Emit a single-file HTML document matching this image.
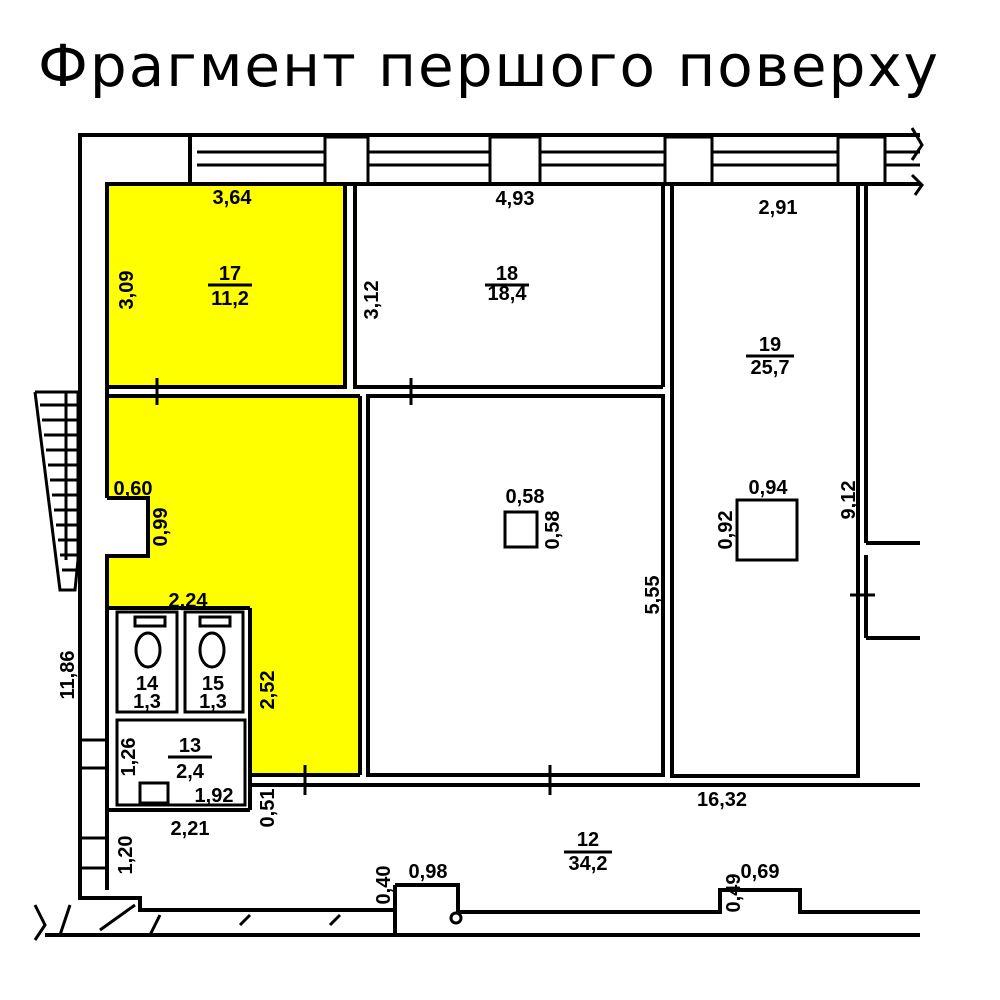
<!DOCTYPE html>
<html><head><meta charset="utf-8"><style>
html,body{margin:0;padding:0;background:#fff;width:1000px;height:1000px;overflow:hidden}
svg{display:block}
.t{font-family:"Liberation Sans",sans-serif;font-weight:bold;font-size:20px;fill:#000}
</style></head><body>
<svg width="1000" height="1000" viewBox="0 0 1000 1000" xmlns="http://www.w3.org/2000/svg">
<text x="38" y="86" textLength="900" lengthAdjust="spacing" font-family="'DejaVu Sans','Liberation Sans',sans-serif" font-size="58">Фрагмент  першого  поверху</text>
<!-- yellow -->
<rect x="107" y="184" width="238" height="203" fill="#ffff00"/>
<polygon points="107,396 360,396 360,775 250,775 250,608 107,608 107,556 148,556 148,498 107,498" fill="#ffff00"/>
<g fill="none" stroke="#000" stroke-width="4">
<polyline points="920,135 80,135 80,900"/>
<line x1="107" y1="184" x2="107" y2="498"/>
<polyline points="107,498 148,498 148,556 107,556 107,608 250,608"/>
<line x1="190" y1="135" x2="190" y2="184"/>
<line x1="107" y1="184" x2="920" y2="184"/>
<line x1="197" y1="152" x2="325" y2="152" stroke-width="3"/><line x1="197" y1="165" x2="325" y2="165" stroke-width="3"/>
<line x1="368" y1="152" x2="490" y2="152" stroke-width="3"/><line x1="368" y1="165" x2="490" y2="165" stroke-width="3"/>
<line x1="540" y1="152" x2="665" y2="152" stroke-width="3"/><line x1="540" y1="165" x2="665" y2="165" stroke-width="3"/>
<line x1="712" y1="152" x2="838" y2="152" stroke-width="3"/><line x1="712" y1="165" x2="838" y2="165" stroke-width="3"/>
<line x1="885" y1="152" x2="920" y2="152" stroke-width="3"/><line x1="885" y1="165" x2="920" y2="165" stroke-width="3"/>
<rect x="325" y="137" width="43" height="47" stroke-width="3"/>
<rect x="490" y="137" width="50" height="47" stroke-width="3"/>
<rect x="665" y="137" width="47" height="47" stroke-width="3"/>
<rect x="838" y="137" width="47" height="47" stroke-width="3"/>
<path d="M912,128 L922,145 L912,160 M912,175 L922,185 L915,195" stroke-width="3"/>
<rect x="107" y="184" width="238" height="203"/>
<polyline points="355,184 355,387 663,387"/>
<line x1="663" y1="184" x2="663" y2="387"/>
<rect x="368" y="396" width="295" height="379"/>
<line x1="107" y1="396" x2="360" y2="396"/>
<line x1="360" y1="396" x2="360" y2="775"/>
<rect x="672" y="184" width="186" height="592"/>
<line x1="866" y1="184" x2="866" y2="543"/>
<polyline points="866,543 920,543 M866,555 L920,555"/>
<polyline points="866,555 866,638"/>
<polyline points="866,638 920,638 M866,650 920,650 M866,650 866,777 M866,777 920,777"/>
<line x1="250" y1="785" x2="920" y2="785"/>
<line x1="250" y1="608" x2="250" y2="810"/>
<line x1="250" y1="775" x2="360" y2="775"/>
<rect x="117" y="612" width="60" height="100" stroke-width="3"/>
<rect x="185" y="612" width="58" height="100" stroke-width="3"/>
<line x1="107" y1="608" x2="107" y2="810"/>
<rect x="117" y="720" width="128" height="85" stroke-width="3"/>
<rect x="140" y="783" width="28" height="20" stroke-width="3"/>
<polyline points="107,810 250,810"/>
<line x1="107" y1="810" x2="107" y2="890"/>
<line x1="80" y1="740" x2="107" y2="740" stroke-width="3"/><line x1="80" y1="768" x2="107" y2="768" stroke-width="3"/>
<line x1="80" y1="838" x2="107" y2="838" stroke-width="3"/><line x1="80" y1="868" x2="107" y2="868" stroke-width="3"/>
<polyline points="80,898 140,898 140,910 395,910 395,935"/>
<polyline points="395,885 458,885 458,912 720,912 720,890 800,890 800,912 920,912"/>
<line x1="395" y1="885" x2="395" y2="935"/>
<line x1="45" y1="935" x2="920" y2="935"/>
<path d="M35,905 L45,925 L35,940 M60,935 L70,905" stroke-width="3"/>
<path d="M100,930 L135,905 M150,935 L160,915 M240,925 L250,915 M330,925 L340,915" stroke-width="3"/>
<circle cx="456" cy="918" r="5" stroke-width="3"/>
<polyline points="35,392 78,392 78,560 75,590 60,590 35,392" stroke-width="3"/>
<g stroke-width="3">
<line x1="40" y1="405" x2="78" y2="405"/><line x1="42" y1="420" x2="78" y2="420"/><line x1="44" y1="435" x2="78" y2="435"/><line x1="46" y1="450" x2="78" y2="450"/><line x1="48" y1="465" x2="78" y2="465"/><line x1="50" y1="480" x2="78" y2="480"/><line x1="52" y1="495" x2="78" y2="495"/><line x1="54" y1="510" x2="78" y2="510"/><line x1="56" y1="525" x2="78" y2="525"/><line x1="58" y1="540" x2="78" y2="540"/><line x1="60" y1="555" x2="78" y2="555"/><line x1="62" y1="570" x2="78" y2="570"/><line x1="66" y1="392" x2="66" y2="560"/>
</g>
<rect x="505" y="512" width="32" height="35" stroke-width="3"/>
<rect x="737" y="500" width="60" height="60" stroke-width="3"/>
<g stroke-width="3"><line x1="157" y1="378" x2="157" y2="405"/><line x1="411" y1="378" x2="411" y2="405"/><line x1="550" y1="765" x2="550" y2="795"/><line x1="305" y1="765" x2="305" y2="795"/><line x1="850" y1="595" x2="875" y2="595"/></g>
</g>
<g fill="none" stroke="#000" stroke-width="3">
<rect x="135" y="617" width="30" height="9"/><ellipse cx="148" cy="650" rx="12" ry="17"/>
<rect x="200" y="617" width="30" height="9"/><ellipse cx="212" cy="650" rx="12" ry="17"/>
</g>
<g class="t">
<text x="232" y="204" text-anchor="middle">3,64</text>
<text x="230" y="280" text-anchor="middle">17</text><line x1="208" y1="285" x2="252" y2="285" stroke="#000" stroke-width="3"/>
<text x="230" y="305" text-anchor="middle">11,2</text>
<text transform="translate(133,290) rotate(-90)" text-anchor="middle">3,09</text>
<text transform="translate(378,300) rotate(-90)" text-anchor="middle">3,12</text>
<text x="515" y="205" text-anchor="middle">4,93</text>
<text x="507" y="280" text-anchor="middle">18</text><line x1="485" y1="285" x2="529" y2="285" stroke="#000" stroke-width="3"/>
<text x="507" y="300" text-anchor="middle">18,4</text>
<text x="778" y="214" text-anchor="middle">2,91</text>
<text x="770" y="351" text-anchor="middle">19</text><line x1="746" y1="356" x2="794" y2="356" stroke="#000" stroke-width="3"/>
<text x="770" y="374" text-anchor="middle">25,7</text>
<text x="768" y="494" text-anchor="middle">0,94</text>
<text transform="translate(732,530) rotate(-90)" text-anchor="middle">0,92</text>
<text transform="translate(855,500) rotate(-90)" text-anchor="middle">9,12</text>
<text x="525" y="503" text-anchor="middle">0,58</text>
<text transform="translate(559,530) rotate(-90)" text-anchor="middle">0,58</text>
<text transform="translate(659,595) rotate(-90)" text-anchor="middle">5,55</text>
<text x="133" y="495" text-anchor="middle">0,60</text>
<text transform="translate(167,527) rotate(-90)" text-anchor="middle">0,99</text>
<text x="188" y="607" text-anchor="middle">2,24</text>
<text transform="translate(274,690) rotate(-90)" text-anchor="middle">2,52</text>
<text transform="translate(74,675) rotate(-90)" text-anchor="middle">11,86</text>
<text x="147" y="690" text-anchor="middle">14</text><text x="147" y="708" text-anchor="middle">1,3</text>
<text x="213" y="690" text-anchor="middle">15</text><text x="213" y="708" text-anchor="middle">1,3</text>
<text x="190" y="752" text-anchor="middle">13</text><line x1="168" y1="757" x2="212" y2="757" stroke="#000" stroke-width="3"/>
<text x="190" y="778" text-anchor="middle">2,4</text>
<text transform="translate(135,757) rotate(-90)" text-anchor="middle">1,26</text>
<text x="214" y="802" text-anchor="middle">1,92</text>
<text x="190" y="835" text-anchor="middle">2,21</text>
<text transform="translate(274,808) rotate(-90)" text-anchor="middle">0,51</text>
<text transform="translate(132,855) rotate(-90)" text-anchor="middle">1,20</text>
<text x="722" y="806" text-anchor="middle">16,32</text>
<text x="588" y="846" text-anchor="middle">12</text><line x1="564" y1="852" x2="612" y2="852" stroke="#000" stroke-width="3"/>
<text x="588" y="870" text-anchor="middle">34,2</text>
<text x="428" y="878" text-anchor="middle">0,98</text>
<text transform="translate(390,885) rotate(-90)" text-anchor="middle">0,40</text>
<text x="760" y="878" text-anchor="middle">0,69</text>
<text transform="translate(740,893) rotate(-90)" text-anchor="middle">0,49</text>
</g>
</svg>
</body></html>
